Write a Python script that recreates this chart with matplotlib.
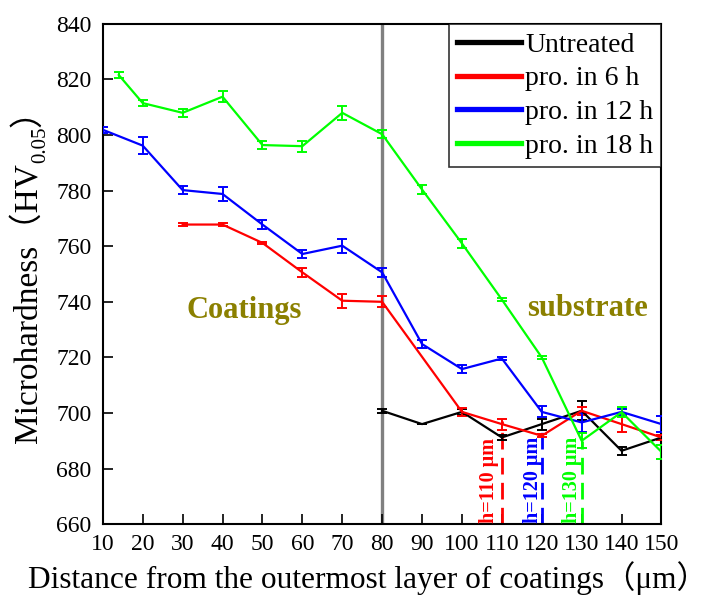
"""
Microhardness profile across the coating / substrate interface.
"""

import matplotlib
matplotlib.use("Agg")
import matplotlib.pyplot as plt

plt.rcParams["font.family"] = ["Liberation Serif", "Noto Sans CJK SC", "DejaVu Sans"]

# data
x_untreated = [80, 90, 100, 110, 120, 130, 140, 150]
y_untreated = [700.8, 696, 700.4, 691.2, 696, 700.8, 686.4, 691.2]
e_untreated = [0.7, 0, 1.0, 1.0, 2.0, 3.5, 1.5, 1.0]

x_6h = [30, 40, 50, 60, 70, 80, 100, 110, 120, 130, 140, 150]
y_6h = [767.8, 767.8, 761.2, 750.6, 740.4, 740, 700.4, 696, 691.8, 700.8, 696, 691.2]
e_6h = [0.5, 0.5, 0.5, 1.5, 2.5, 2.0, 1.5, 2.0, 0.5, 1.5, 3.0, 1.0]

x_12h = [10, 20, 30, 40, 50, 60, 70, 80, 90, 100, 110, 120, 130, 140, 150]
y_12h = [801.9, 796.2, 780.2, 778.8, 767.8, 757.2, 760.2, 750.6, 724.8, 715.8, 719.6,
         700.4, 696.6, 700.4, 696]
e_12h = [1.0, 3.0, 1.5, 2.5, 1.5, 1.5, 2.5, 1.5, 1.5, 1.5, 0.7, 2.0, 3.5, 1.0, 3.0]

x_18h = [14, 20, 30, 40, 50, 60, 70, 80, 90, 100, 110, 120, 130, 140, 150]
y_18h = [821.6, 811.5, 808, 813.8, 796.4, 796, 808, 800.3, 780.4, 761, 740.8,
         720, 690, 700.3, 686]
e_18h = [1.0, 1.0, 1.5, 2.0, 1.5, 2.0, 2.5, 1.5, 1.5, 1.5, 0.5, 0.5, 2.7, 1.8, 2.4]

labels = ["Untreated", "pro. in 6 h", "pro. in 12 h", "pro. in 18 h"]
colors = ["#000000", "#ff0000", "#0000ff", "#00ff00"]

# depth markers
h_depth = [110, 120, 130]
h_top = [697, 693, 690]
h_colors = ["#ff0000", "#0000ff", "#00ff00"]
h_text_x = [106.8, 117.8, 127.5]

fig = plt.figure(figsize=(7.19, 5.97), dpi=100)
ax = fig.add_axes([0.143, 0.122, 0.777, 0.838])

ax.axvline(80, color="#808080", lw=2.4, zorder=1)

series = [(x_untreated, y_untreated, e_untreated),
          (x_6h, y_6h, e_6h),
          (x_12h, y_12h, e_12h),
          (x_18h, y_18h, e_18h)]
for (xs, ys, es), lab, col in zip(series, labels, colors):
    ax.errorbar(xs, ys, yerr=es, color=col, lw=1.6, elinewidth=1.4,
                capsize=3.8, capthick=1.4, zorder=3)
    ax.plot([], [], color=col, lw=3.8, label=lab)

for xd, yt, col, xt in zip(h_depth, h_top, h_colors, h_text_x):
    ax.plot([xd, xd], [660, yt], color=col, lw=2.0, ls=(0, (6, 3)), zorder=2)
    ax.text(xt, 660.5, "h=%d μm" % xd, color=col, rotation=90, ha="center",
            va="bottom", fontsize=14.5, fontweight="bold")

ax.text(45.5, 737, "Coatings", color="#8b8000", fontsize=22, fontweight="bold",
        ha="center", va="center")
ax.text(131.5, 737.5, "substrate", color="#8b8000", fontsize=22, fontweight="bold",
        ha="center", va="center")

ax.set_xlim(10, 150)
ax.set_ylim(660, 840)
ax.set_xticks(range(10, 151, 10))
ax.set_yticks(range(660, 841, 20))
ax.tick_params(direction="in", length=7, width=1.2, labelsize=17)
ax.tick_params(axis="y", pad=8)
ax.tick_params(axis="x", pad=7)
for sp in ax.spines.values():
    sp.set_linewidth(1.5)

ax.set_xlabel("Distance from the outermost layer of coatings（μm）", fontsize=22.6,
              ha="left", va="bottom")
ax.xaxis.set_label_coords(28 / 719, 2 / 597, transform=fig.transFigure)

# y label built from pieces so the subscript and full-width brackets both render
renderer = fig.canvas.get_renderer()
fig_h = fig.bbox.height
x_base = 37 / fig.bbox.width
y_pos = (fig_h - 443) / fig_h
pieces = [("Microhardness（HV", 24, 0), ("0.05", 15, 8), ("）", 24, 0)]
for txt, size, shift in pieces:
    t = fig.text(x_base + shift / fig.bbox.width, y_pos, txt, fontsize=size,
                 rotation=90, rotation_mode="anchor", ha="left", va="baseline")
    y_pos = t.get_window_extent(renderer).y1 / fig_h

leg = ax.legend(loc="upper right", fontsize=20, frameon=True, fancybox=False,
                edgecolor="black", borderaxespad=0, handlelength=2.3,
                handletextpad=0.15, labelspacing=0.3, borderpad=0.3)
leg.get_frame().set_linewidth(1.2)

fig.savefig("out.png", dpi=100)
